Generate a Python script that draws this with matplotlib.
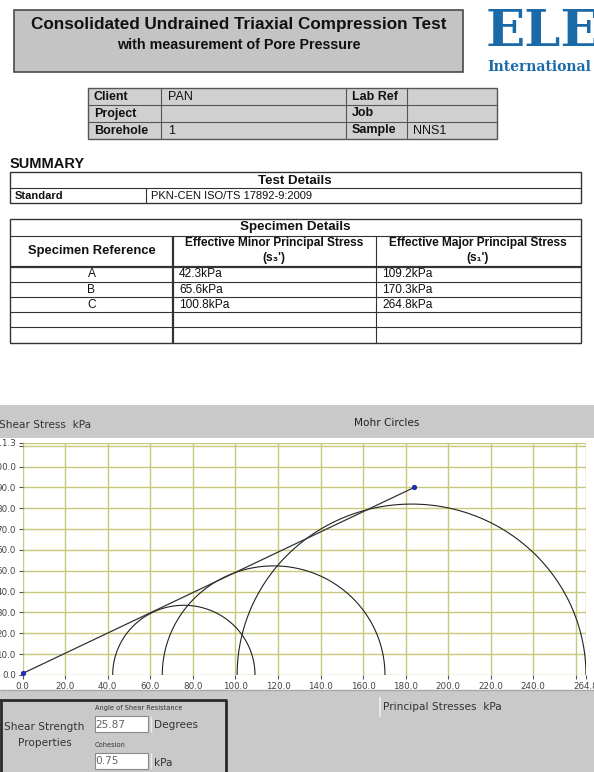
#!/usr/bin/env python3
"""Triaxial CU test summary sheet with Mohr circles."""

import numpy as np
import matplotlib
matplotlib.use("Agg")
import matplotlib.pyplot as plt
from matplotlib.patches import Rectangle

# --- data -------------------------------------------------------------
title = "Consolidated Undrained Triaxial Compression Test"
subtitle = "with measurement of Pore Pressure"

info_labels_left = ["Client", "Project", "Borehole"]
info_values_left = ["PAN", "", "1"]
info_labels_right = ["Lab Ref", "Job", "Sample"]
info_values_right = ["", "", "NNS1"]

standard = "PKN-CEN ISO/TS 17892-9:2009"

specimens = ["A", "B", "C"]
sigma3 = [42.3, 65.6, 100.8]      # effective minor principal stress, kPa
sigma1 = [109.2, 170.3, 264.8]    # effective major principal stress, kPa

phi_deg = 25.87                   # angle of shear resistance
cohesion = 0.75                   # kPa
envelope_end = 184.0              # x where the drawn envelope stops

x_ticks = [0, 20, 40, 60, 80, 100, 120, 140, 160, 180, 200, 220, 240, 260, 264.8]
x_labels = ["0.0", "20.0", "40.0", "60.0", "80.0", "100.0", "120.0", "140.0",
            "160.0", "180.0", "200.0", "220.0", "240.0", "", "264.8"]
y_ticks = [0, 10, 20, 30, 40, 50, 60, 70, 80, 90, 100, 110, 111.3]
y_labels = ["0.0", "10.0", "20.0", "30.0", "40.0", "50.0", "60.0", "70.0",
            "80.0", "90.0", "100.0", "", "111.3"]

W, H = 594, 772
SANS = ["Liberation Sans", "DejaVu Sans"]
UI = ["DejaVu Sans"]
GRID = "#c8c87c"
PANEL = "#c9c9c9"
BLUE = "#1b6aa8"

fig = plt.figure(figsize=(W / 100, H / 100), dpi=100)
bg = fig.add_axes([0, 0, 1, 1])
bg.set_xlim(0, W)
bg.set_ylim(H, 0)
bg.axis("off")


def rect(x0, y0, x1, y1, fc="none", ec="#333333", lw=0.8, z=1):
    bg.add_patch(Rectangle((x0, y0), x1 - x0, y1 - y0, fc=fc, ec=ec, lw=lw, zorder=z))


def hline(y, x0, x1, lw=0.8, c="#333333"):
    bg.plot([x0, x1], [y, y], color=c, lw=lw, solid_capstyle="butt", zorder=3)


def vline(x, y0, y1, lw=0.8, c="#333333"):
    bg.plot([x, x], [y0, y1], color=c, lw=lw, solid_capstyle="butt", zorder=3)


def txt(x, y, s, size=8.5, bold=False, ha="left", family=SANS, color="#111111"):
    bg.text(x, y, s, fontsize=size, fontweight="bold" if bold else "normal",
            ha=ha, va="center", family=family, color=color, zorder=4)


# --- header -----------------------------------------------------------
rect(14, 10, 463, 72, fc="#c4c4c4", ec="#4a4a4a", lw=1.2)
txt(239, 25, title, size=12.3, bold=True, ha="center")
txt(239, 45, subtitle, size=10.3, bold=True, ha="center")

txt(486, 32, "ELE", size=37, bold=True, family=["DejaVu Serif"], color=BLUE)
txt(487, 67, "International", size=10, bold=True, family=["DejaVu Serif"], color=BLUE)

# info table
ix = [88, 161, 346, 407, 497]
iy = [88, 105, 122, 139]
rect(ix[0], iy[0], ix[-1], iy[-1], fc="#d0d0d0", ec="#555555", lw=1.0)
for yy in iy[1:-1]:
    hline(yy, ix[0], ix[-1], c="#555555")
for xx in ix[1:-1]:
    vline(xx, iy[0], iy[-1], c="#555555")
for i in range(3):
    yc = (iy[i] + iy[i + 1]) / 2
    txt(ix[0] + 6, yc, info_labels_left[i], size=9, bold=True)
    txt(ix[1] + 7, yc, info_values_left[i], size=9)
    txt(ix[2] + 6, yc, info_labels_right[i], size=9, bold=True)
    txt(ix[3] + 6, yc, info_values_right[i], size=9)

# --- summary tables -----------------------------------------------------
txt(10, 164, "SUMMARY", size=10.5, bold=True)

rect(9.5, 172, 581, 203, fc="white", lw=1.0)
hline(188, 9.5, 581)
vline(145.5, 188, 203)
txt(295, 181, "Test Details", size=9.6, bold=True, ha="center")
txt(15, 196, "Standard", size=8, bold=True)
txt(151, 196, standard, size=8)

sx = [9.5, 173, 376, 581]
sy = [218.5, 235.5, 266.5, 282.3, 297.3, 312.3, 327.3, 342.7]
rect(sx[0], sy[0], sx[-1], sy[-1], fc="white", lw=1.0)
hline(sy[1], sx[0], sx[-1])
hline(sy[2], sx[0], sx[-1], lw=1.6)
for yy in sy[3:-1]:
    hline(yy, sx[0], sx[-1])
vline(sx[1], sy[1], sy[-1], lw=1.6)
vline(sx[2], sy[1], sy[-1])
txt(295, 227, "Specimen Details", size=9.6, bold=True, ha="center")
txt(91.5, 251, "Specimen Reference", size=9.4, bold=True, ha="center")
txt(274, 243, "Effective Minor Principal Stress", size=8.6, bold=True, ha="center")
txt(274, 258, "(s\u2083')", size=8.6, bold=True, ha="center")
txt(478, 243, "Effective Major Principal Stress", size=8.6, bold=True, ha="center")
txt(478, 258, "(s\u2081')", size=8.6, bold=True, ha="center")
for i, ref in enumerate(specimens):
    yc = (sy[2 + i] + sy[3 + i]) / 2
    txt(91.5, yc, ref, size=8.6, ha="center")
    txt(sx[1] + 6, yc, f"{sigma3[i]}kPa", size=8.6)
    txt(sx[2] + 6, yc, f"{sigma1[i]}kPa", size=8.6)

# --- chart panel --------------------------------------------------------
rect(0, 405, W, H, fc=PANEL, ec="none", lw=0, z=0)
rect(0, 438, W, 690, fc="white", ec="none", lw=0, z=0)
hline(690, 0, W, lw=1.0, c="#a8a8a8")
txt(-1, 425, "Shear Stress  kPa", size=7.6, family=UI, color="#333333")
txt(387, 423, "Mohr Circles", size=7.6, family=UI, color="#222222", ha="center")
vline(380, 697, 717, lw=1.2, c="#eeeeee")
txt(383, 707, "Principal Stresses  kPa", size=7.6, family=UI, color="#333333")

# shear strength box
bg.plot([0, 226, 226], [700, 700, H + 2], color="#2a2a2a", lw=2.0, zorder=3)
vline(1, 700, H, lw=2.0, c="#2a2a2a")
txt(44.5, 727, "Shear Strength", size=7.6, family=UI, color="#333333", ha="center")
txt(44.5, 743, "Properties", size=7.6, family=UI, color="#333333", ha="center")
txt(95, 708, "Angle of Shear Resistance", size=4.8, family=UI, color="#333333")
txt(95, 745, "Cohesion", size=4.8, family=UI, color="#333333")
for y0, val, unit in [(716, f"{phi_deg:.2f}", "Degrees"), (753, f"{cohesion:.2f}", "kPa")]:
    rect(94.7, y0, 148, y0 + 16, fc="white", ec="#8a8a8a", lw=0.8, z=3)
    txt(95.5, y0 + 8.5, val, size=7.6, family=UI, color="#666666")
    vline(151, y0, y0 + 16, lw=1.0, c="#eeeeee")
    txt(154, y0 + 9.5, unit, size=7.6, family=UI, color="#333333")

# --- Mohr circle plot -----------------------------------------------------
ax_l, ax_r, ax_t, ax_b = 22.7, 586, 443, 675
ax = fig.add_axes([ax_l / W, (H - ax_b) / H, (ax_r - ax_l) / W, (ax_b - ax_t) / H])
ax.set_facecolor("none")
ax.set_xlim(0, 264.8)
ax.set_ylim(0, 111.3)
for s in ax.spines.values():
    s.set_visible(False)

for xv in x_ticks:
    ax.axvline(xv, color=GRID, lw=1.0, zorder=1)
for yv in y_ticks:
    ax.axhline(yv, color=GRID, lw=1.0, zorder=1)

ax.set_xticks(x_ticks)
ax.set_xticklabels(x_labels)
ax.set_yticks(y_ticks)
ax.set_yticklabels(y_labels)
ax.tick_params(direction="out", length=3, width=0.8, color="#555555",
               labelsize=6.3, labelcolor="#444444", pad=2)
for lab in ax.get_xticklabels() + ax.get_yticklabels():
    lab.set_family(UI)

t = np.linspace(0, np.pi, 300)
for s3, s1 in zip(sigma3, sigma1):
    cen = (s1 + s3) / 2
    rad = (s1 - s3) / 2
    ax.plot(cen + rad * np.cos(t), rad * np.sin(t), color="#222222", lw=0.8, zorder=3)

ex = np.array([0.0, envelope_end])
ey = cohesion + np.tan(np.radians(phi_deg)) * ex
ax.plot(ex, ey, color="#333333", lw=0.9, zorder=4)
ax.plot(ex, ey, "o", ms=2.8, color="#1f2fb0", zorder=5, clip_on=False)

fig.savefig("out.png", dpi=100)
